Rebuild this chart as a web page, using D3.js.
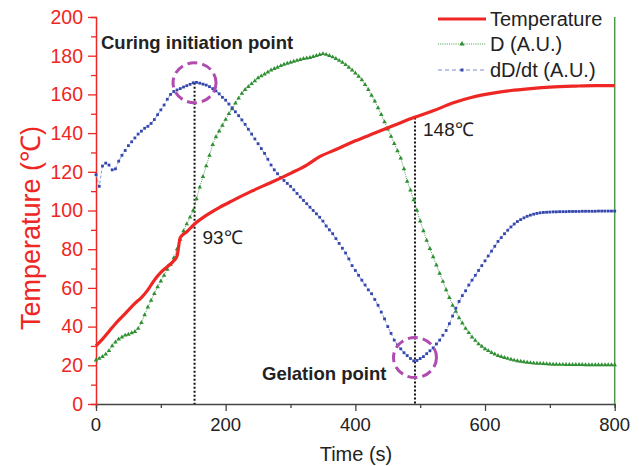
<!DOCTYPE html>
<html>
<head>
<meta charset="utf-8">
<script src="https://cdn.jsdelivr.net/npm/d3@7"></script>
<style>
  body { margin: 0; background: #fff; }
  text { font-family: "Liberation Sans", Arial, sans-serif; }
</style>
</head>
<body>
<div id="chart"></div>
<script>
// Temperature curve (℃)
var tempTime = [0, 10, 20, 30, 40, 50, 60, 70, 80, 90, 100, 110, 120, 125, 130, 140, 152, 170, 190, 210,
    240, 270, 300, 325, 345, 370, 400, 430, 460, 490, 520, 550, 580, 610, 640, 670, 700, 740, 770, 800];
var tempValue = [30, 33.5, 37.5, 41.5, 45, 48.5, 52, 55, 59, 64, 68, 71, 74, 76.5, 86, 89, 93, 97.5, 101.5, 105,
    110, 114.5, 119.2, 123.5, 127.8, 131.5, 136, 140, 144, 148, 151.5, 155.5, 158.5, 160.5, 162, 163, 163.8, 164.3, 164.5, 164.5];

// D and dD/dt sampled every 5 s (0..800)
var sampleStep = 5;
var dValue = [
    22.7, 23.5, 24.5, 25.7, 27.5, 30, 32, 33.5, 34.5, 35.5,
    36, 36.7, 37.4, 39, 42, 46, 50, 53.5, 57, 60.5,
    63.5, 66.5, 69.5, 72, 75.5, 80, 85, 89.5, 93, 96.5,
    100, 106, 112, 117.5, 123, 128.5, 134, 138, 141, 144,
    147, 150, 152.5, 155.5, 158, 160.5, 162.5, 164, 165.5, 167,
    168.5, 169.5, 170.5, 171.5, 172.5, 173.3, 174, 174.8, 175.5, 176,
    176.5, 177, 177.5, 178, 178.5, 178.7, 179, 179.5, 180, 180.5,
    181, 180.6, 180, 179.3, 178.5, 177.5, 176.5, 175.3, 174, 172.5,
    171, 169.3, 167.5, 165, 162.5, 159.5, 156.5, 153, 149.5, 145.8,
    142, 138.3, 134.5, 130.8, 127, 121.5, 115, 110.5, 105.5, 100,
    94.5, 89.5, 84.5, 80.3, 76, 71.8, 67.5, 63.3, 59, 55,
    51, 47.8, 44.5, 41.8, 39, 36.8, 34.5, 32.8, 31, 29.8,
    28.5, 27.5, 26.5, 25.8, 25, 24.5, 24, 23.5, 23, 22.6,
    22.3, 22, 21.8, 21.5, 21.3, 21.1, 21, 20.9, 20.8, 20.7,
    20.6, 20.5, 20.5, 20.4, 20.4, 20.3, 20.3, 20.3, 20.3, 20.3,
    20.3, 20.2, 20.2, 20.2, 20.2, 20.2, 20.2, 20.2, 20.2, 20.2,
    20.2
];
var dRateValue = [
    118.5, 112.5, 123, 124.5, 123.5, 121, 121.5, 125.5, 128.5, 131,
    133.5, 135.5, 137.5, 139.5, 141, 142.5, 143.5, 145, 147, 149.5,
    152, 154.5, 157.5, 160, 161.5, 162.3, 163, 163.8, 164.5, 165.2,
    166, 166.2, 165.8, 165.3, 164.8, 164, 163, 161.8, 160.3, 158.5,
    157, 155, 153, 151, 149, 146.8, 144.5, 142, 139.5, 137,
    134.5, 132, 129.5, 126.5, 123.5, 121, 119, 117, 115.5, 114,
    112.5, 110.7, 108.8, 107, 105.2, 103.5, 101.7, 100, 98.3, 96.5,
    94.5, 92, 90, 88, 85.5, 83, 80.5, 78, 75, 71.5,
    69, 66.5, 64, 61.5, 59, 57, 54, 51, 47.5, 44,
    40, 36.5, 33, 30.5, 28.5, 26.5, 25, 23.5, 22.3, 22.5,
    23.5, 24.5, 26, 27.5, 29, 31, 33, 35.5, 38, 41.5,
    45.5, 49.5, 53, 56, 58.5, 61.5, 64, 66.5, 69, 71.5,
    74, 76.5, 79, 81.5, 84, 86, 88, 89.8, 91.5, 93,
    94.3, 95.3, 96.2, 97, 97.6, 98.1, 98.5, 98.8, 99, 99.1,
    99.2, 99.3, 99.3, 99.4, 99.4, 99.4, 99.5, 99.5, 99.5, 99.5,
    99.6, 99.6, 99.6, 99.6, 99.6, 99.7, 99.7, 99.7, 99.7, 99.7,
    99.7
];

var xTicks = [0, 200, 400, 600, 800];
var yTicks = [0, 20, 40, 60, 80, 100, 120, 140, 160, 180, 200];

// annotations: time, top of the dotted line, label
var markTime = [152, 492];
var markTop = [166, 148];
var markCircle = [166, 24];
var markLabel = ["93℃", "148℃"];

var seriesNames = ["Temperature", "D (A.U.)", "dD/dt (A.U.)"];

var red = "#ee2624", green = "#2f8f33", blue = "#3447ad";

var svg = d3.select("#chart").append("svg")
    .attr("width", 639)
    .attr("height", 466);

var x = d3.scaleLinear().domain([0, 800]).range([96, 614.7]);
var y = d3.scaleLinear().domain([0, 200]).range([404, 17]);

var tempData = tempTime.map(function (t, i) { return { t: t, v: tempValue[i] }; });
var dData = dValue.map(function (v, i) { return { t: i * sampleStep, v: v }; });
var rateData = dRateValue.map(function (v, i) { return { t: i * sampleStep, v: v }; });

var line = d3.line()
    .x(function (d) { return x(d.t); })
    .y(function (d) { return y(d.v); });

// right green axis line
svg.append("line")
    .attr("x1", x(800)).attr("x2", x(800))
    .attr("y1", y(200)).attr("y2", y(0))
    .attr("stroke", "#4a9c4a").attr("stroke-width", 1.5);

// x axis
var xAxis = svg.append("g")
    .attr("transform", "translate(0," + y(0) + ")");
xAxis.call(d3.axisBottom(x).tickValues(d3.range(0, 801, 100)).tickSize(4).tickFormat(""));
xAxis.call(function (g) {
    g.select(".domain").attr("stroke", "#444").attr("stroke-width", 1.5);
    g.selectAll(".tick line").attr("stroke", "#444").attr("stroke-width", 1.3)
        .attr("y2", function (d) { return xTicks.indexOf(d) >= 0 ? 7 : 4; });
});
xAxis.selectAll(".xl").data(xTicks).enter().append("text")
    .attr("x", function (d) { return x(d); })
    .attr("y", 27)
    .attr("text-anchor", "middle")
    .attr("fill", "#222")
    .style("font-size", "18.5px")
    .text(function (d) { return d; });

// y axis
var yAxis = svg.append("g")
    .attr("transform", "translate(" + x(0) + ",0)");
yAxis.call(d3.axisLeft(y).tickValues(d3.range(0, 201, 10)).tickSize(5).tickFormat(""));
yAxis.call(function (g) {
    g.select(".domain").attr("stroke", red).attr("stroke-width", 1.5);
    g.selectAll(".tick line").attr("stroke", red).attr("stroke-width", 1.3)
        .attr("x2", function (d) { return yTicks.indexOf(d) >= 0 ? -8 : -5; });
});
yAxis.selectAll(".yl").data(yTicks).enter().append("text")
    .attr("x", -13)
    .attr("y", function (d) { return y(d); })
    .attr("dy", "0.35em")
    .attr("text-anchor", "end")
    .attr("fill", red)
    .style("font-size", "19.5px")
    .text(function (d) { return d; });

// axis titles
svg.append("text")
    .attr("transform", "translate(40,228) rotate(-90)")
    .attr("text-anchor", "middle")
    .attr("fill", red)
    .style("font-size", "27px")
    .text("Temperature (℃)");
svg.append("text")
    .attr("x", 356).attr("y", 461)
    .attr("text-anchor", "middle")
    .attr("fill", "#222")
    .style("font-size", "20px")
    .text("Time (s)");

// dotted guide lines
svg.selectAll(".guide").data(markTime).enter().append("line")
    .attr("x1", function (d) { return x(d); })
    .attr("x2", function (d) { return x(d); })
    .attr("y1", function (d, i) { return y(markTop[i]); })
    .attr("y2", y(0))
    .attr("stroke", "#111").attr("stroke-width", 2)
    .attr("stroke-dasharray", "2,2");

// D series
svg.append("path").datum(dData)
    .attr("d", line)
    .attr("fill", "none").attr("stroke", green).attr("stroke-width", 0.8)
    .attr("stroke-dasharray", "1,1");
svg.selectAll(".dm").data(dData).enter().append("path")
    .attr("d", d3.symbol(d3.symbolTriangle).size(9))
    .attr("transform", function (d) { return "translate(" + x(d.t) + "," + y(d.v) + ")"; })
    .attr("fill", green);

// dD/dt series
svg.append("path").datum(rateData)
    .attr("d", line)
    .attr("fill", "none").attr("stroke", "#7d8bd0").attr("stroke-width", 0.9)
    .attr("stroke-dasharray", "3,2");
svg.selectAll(".rm").data(rateData).enter().append("rect")
    .attr("x", function (d) { return x(d.t) - 1.4; })
    .attr("y", function (d) { return y(d.v) - 1.4; })
    .attr("width", 2.8).attr("height", 2.8)
    .attr("fill", blue);

// Temperature series
svg.append("path").datum(tempData)
    .attr("d", line.curve(d3.curveMonotoneX))
    .attr("fill", "none").attr("stroke", red).attr("stroke-width", 3.2);

// dashed circles
svg.selectAll(".circ").data(markTime).enter().append("ellipse")
    .attr("cx", function (d) { return x(d); })
    .attr("cy", function (d, i) { return y(markCircle[i]); })
    .attr("rx", 21.5).attr("ry", 20)
    .attr("fill", "none").attr("stroke", "#b04cb0").attr("stroke-width", 3)
    .attr("stroke-dasharray", "10,5");

// temperature labels
svg.selectAll(".ml").data(markTime).enter().append("text")
    .attr("x", function (d) { return x(d) + 8; })
    .attr("y", function (d, i) { return i === 0 ? 244 : 136; })
    .attr("fill", "#222")
    .style("font-size", "19px")
    .text(function (d, i) { return markLabel[i]; });

svg.append("text")
    .attr("x", 101).attr("y", 49)
    .attr("fill", "#222").style("font-size", "18.5px").style("font-weight", "bold")
    .text("Curing initiation point");
svg.append("text")
    .attr("x", 262).attr("y", 380)
    .attr("fill", "#222").style("font-size", "18.5px").style("font-weight", "bold")
    .text("Gelation point");

// legend
var legend = svg.append("g").attr("transform", "translate(438,0)");
var legY = [19, 44, 70];
legend.append("line").attr("x1", 0).attr("x2", 48).attr("y1", legY[0]).attr("y2", legY[0])
    .attr("stroke", red).attr("stroke-width", 3.2);
legend.append("line").attr("x1", 0).attr("x2", 48).attr("y1", legY[1]).attr("y2", legY[1])
    .attr("stroke", green).attr("stroke-width", 0.9).attr("stroke-dasharray", "1,1.2");
legend.append("path").attr("d", d3.symbol(d3.symbolTriangle).size(12))
    .attr("transform", "translate(24," + legY[1] + ")").attr("fill", green);
legend.append("line").attr("x1", 0).attr("x2", 48).attr("y1", legY[2]).attr("y2", legY[2])
    .attr("stroke", "#7d8bd0").attr("stroke-width", 1).attr("stroke-dasharray", "4,3");
legend.append("rect").attr("x", 22.5).attr("y", legY[2] - 1.5).attr("width", 3).attr("height", 3)
    .attr("fill", blue);
legend.selectAll(".lt").data(seriesNames).enter().append("text")
    .attr("x", 52)
    .attr("y", function (d, i) { return legY[i] + 7; })
    .attr("fill", "#222")
    .style("font-size", "20px")
    .text(function (d) { return d; });
</script>
</body>
</html>
